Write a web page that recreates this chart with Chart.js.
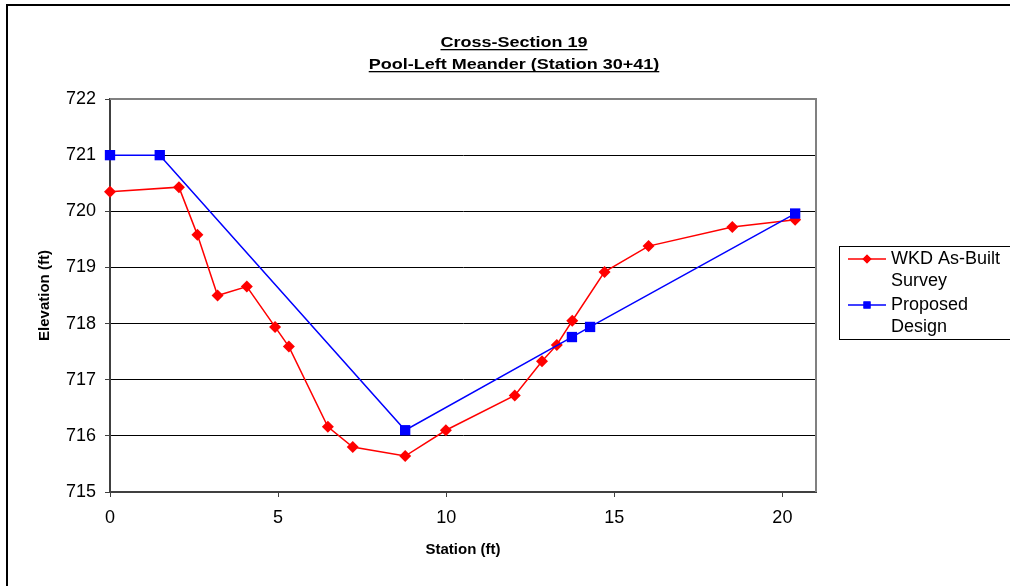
<!DOCTYPE html>
<html>
<head>
<meta charset="utf-8">
<script src="https://cdn.jsdelivr.net/npm/chart.js@4.4.1/dist/chart.umd.min.js"></script>
<style>
  html, body { margin: 0; padding: 0; background: #fff; }
  #wrap { width: 1010px; height: 586px; position: relative; }
</style>
</head>
<body>
<div id="wrap"><canvas id="grafico" width="1010" height="586"></canvas></div>
<script>
// dados
const tituloLinhas = ['Cross-Section 19', 'Pool-Left Meander (Station 30+41)'];
const nomesSeries = ['WKD As-Built Survey', 'Proposed Design'];
const levantamentoX = [0, 2.05, 2.6, 3.2, 4.07, 4.91, 5.32, 6.48, 7.22, 8.78, 9.99, 12.04, 12.85, 13.29, 13.75, 14.71, 16.02, 18.51, 20.38];
const levantamentoY = [720.35, 720.43, 719.58, 718.50, 718.66, 717.94, 717.59, 716.16, 715.80, 715.64, 716.10, 716.72, 717.33, 717.62, 718.05, 718.92, 719.38, 719.72, 719.85];
const projetoX = [0, 1.48, 8.78, 13.74, 14.28, 20.38];
const projetoY = [721.0, 721.0, 716.10, 717.76, 717.94, 719.96];
const ticksX = [0, 5, 10, 15, 20];
const ticksY = [715, 716, 717, 718, 719, 720, 721, 722];

const fonte = 'Arial, "Liberation Sans", sans-serif';

function pontos(xs, ys) {
    return xs.map((x, i) => ({ x: x, y: ys[i] }));
}

// moldura, título sublinhado e legenda
const extras = {
    id: 'extras',
    afterDraw(chart) {
        const ctx = chart.ctx;
        const a = chart.chartArea;
        ctx.save();
        // borda do gráfico
        ctx.strokeStyle = '#000';
        ctx.lineWidth = 2;
        ctx.strokeRect(7, 5, 1020, 600);
        // borda da área de plotagem (topo e direita)
        ctx.strokeStyle = '#808080';
        ctx.lineWidth = 2;
        ctx.beginPath();
        ctx.moveTo(a.left, a.top);
        ctx.lineTo(a.right, a.top);
        ctx.lineTo(a.right, a.bottom);
        ctx.stroke();

        // título (fonte um pouco esticada na horizontal, como no original)
        ctx.fillStyle = '#000';
        ctx.font = 'bold 15px ' + fonte;
        ctx.textAlign = 'center';
        ctx.textBaseline = 'alphabetic';
        const cx = 514;
        const esticar = 1.2;
        [47, 69].forEach((yb, i) => {
            const t = tituloLinhas[i];
            ctx.save();
            ctx.translate(cx, yb);
            ctx.scale(esticar, 1);
            ctx.fillText(t, 0, 0);
            const w = ctx.measureText(t).width;
            ctx.fillRect(-w / 2, 2, w, 1.3);
            ctx.restore();
        });

        // títulos dos eixos
        ctx.font = 'bold 15px ' + fonte;
        ctx.textBaseline = 'middle';
        ctx.fillText('Station (ft)', (a.left + a.right) / 2, 550);
        ctx.save();
        ctx.translate(45, (a.top + a.bottom) / 2);
        ctx.rotate(-Math.PI / 2);
        ctx.fillText('Elevation (ft)', 0, 0);
        ctx.restore();

        // legenda
        ctx.strokeStyle = '#000';
        ctx.lineWidth = 1;
        ctx.strokeRect(839.5, 246.5, 200, 93);
        const itens = [
            { cor: '#ff0000', forma: 'rectRot', raio: 4.5, linhas: ['WKD As-Built', 'Survey'], y: 259 },
            { cor: '#0000ff', forma: 'rect', raio: 5, linhas: ['Proposed', 'Design'], y: 305 }
        ];
        ctx.font = '18px ' + fonte;
        ctx.textAlign = 'left';
        itens.forEach(it => {
            ctx.strokeStyle = it.cor;
            ctx.lineWidth = 1.5;
            ctx.beginPath();
            ctx.moveTo(848, it.y);
            ctx.lineTo(886, it.y);
            ctx.stroke();
            ctx.fillStyle = it.cor;
            Chart.helpers.drawPoint(ctx, { pointStyle: it.forma, radius: it.raio, borderWidth: 0 }, 867, it.y);
            ctx.fill();
            ctx.fillStyle = '#000';
            ctx.fillText(it.linhas[0], 891, it.y);
            ctx.fillText(it.linhas[1], 891, it.y + 22);
        });
        ctx.restore();
    }
};

const ctx = document.getElementById('grafico').getContext('2d');
new Chart(ctx, {
    type: 'scatter',
    data: {
        datasets: [
            {
                label: nomesSeries[0],
                data: pontos(levantamentoX, levantamentoY),
                showLine: true,
                borderColor: '#ff0000',
                backgroundColor: '#ff0000',
                borderWidth: 1.5,
                pointStyle: 'rectRot',
                pointRadius: 6,
                pointBorderWidth: 0,
                clip: false,
                order: 2
            },
            {
                label: nomesSeries[1],
                data: pontos(projetoX, projetoY),
                showLine: true,
                borderColor: '#0000ff',
                backgroundColor: '#0000ff',
                borderWidth: 1.5,
                pointStyle: 'rect',
                pointRadius: 7.3,
                pointBorderWidth: 0,
                clip: false,
                order: 1
            }
        ]
    },
    options: {
        responsive: false,
        animation: false,
        devicePixelRatio: 1,
        layout: { padding: { left: 0, top: 99, right: 194, bottom: 0 } },
        plugins: {
            legend: { display: false },
            title: { display: false },
            tooltip: { enabled: false }
        },
        scales: {
            x: {
                type: 'linear',
                min: 0,
                max: 21,
                afterBuildTicks: s => { s.ticks = ticksX.map(v => ({ value: v })); },
                afterFit: s => { s.height = 94; },
                grid: { drawOnChartArea: false, drawTicks: true, tickLength: 5, color: '#404040' },
                border: { display: true, color: '#404040', width: 2 },
                ticks: { color: '#000', font: { family: fonte, size: 18 }, padding: 10, maxRotation: 0 }
            },
            y: {
                type: 'linear',
                min: 715,
                max: 722,
                afterBuildTicks: s => { s.ticks = ticksY.map(v => ({ value: v })); },
                afterFit: s => { s.width = 110; },
                grid: {
                    color: c => (c.tick && c.tick.value === 722) ? '#808080' : '#000',
                    lineWidth: 1,
                    drawTicks: true,
                    tickLength: 5,
                    tickColor: '#404040'
                },
                border: { display: true, color: '#404040', width: 2 },
                ticks: { color: '#000', font: { family: fonte, size: 18 }, padding: 9 }
            }
        }
    },
    plugins: [extras]
});
</script>
</body>
</html>
